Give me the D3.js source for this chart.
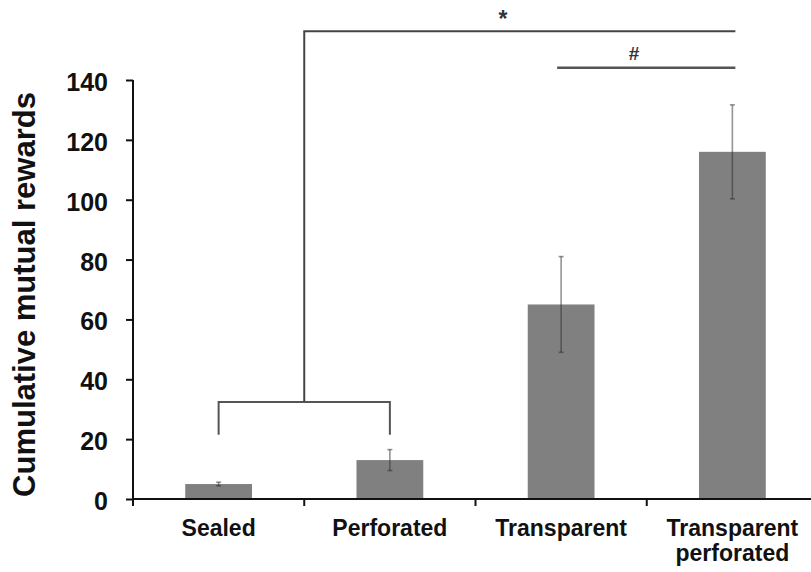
<!DOCTYPE html>
<html>
<head>
<meta charset="utf-8">
<script src="https://cdn.jsdelivr.net/npm/d3@7"></script>
<style>
  body { margin: 0; background: #fff; }
  text { font-family: 'Liberation Sans', Arial, sans-serif; font-weight: bold; fill: #111; }
</style>
</head>
<body>
<div id="chart"></div>
<script>
const categories = ['Sealed', 'Perforated', 'Transparent', 'Transparent perforated'];
const labelLines = [['Sealed'], ['Perforated'], ['Transparent'], ['Transparent', 'perforated']];
const means = [5, 13, 65, 116];
const errors = [0.6, 3.5, 16, 15.7];
const yTicks = [0, 20, 40, 60, 80, 100, 120, 140];

const width = 811;
const height = 572;
const margin = { top: 80, right: -7, bottom: 73, left: 133 };

const svg = d3
  .select('#chart')
  .append('svg')
  .attr('width', width)
  .attr('height', height);

const x = d3
  .scaleBand()
  .domain(categories)
  .range([margin.left, width - margin.right])
  .paddingInner(0.61)
  .paddingOuter(0.305);

const y = d3
  .scaleLinear()
  .domain([0, 140])
  .range([height - margin.bottom, margin.top]);

const step = x.step();
const cx = (c) => x(c) + x.bandwidth() / 2;

// bars
svg
  .append('g')
  .selectAll('rect')
  .data(categories)
  .enter()
  .append('rect')
  .attr('x', (d) => x(d))
  .attr('width', x.bandwidth())
  .attr('y', (d, i) => y(means[i]))
  .attr('height', (d, i) => y(0) - y(means[i]))
  .style('fill', '#808080');

// error bars
const err = svg
  .append('g')
  .style('stroke', '#2a2a2a')
  .style('stroke-opacity', 0.5)
  .style('stroke-width', 1.6);

categories.forEach((c, i) => {
  const hi = y(means[i] + errors[i]);
  const lo = y(means[i] - errors[i]);
  err.append('line').attr('x1', cx(c)).attr('x2', cx(c)).attr('y1', hi).attr('y2', lo);
  err.append('line').attr('x1', cx(c) - 2.5).attr('x2', cx(c) + 2.5).attr('y1', hi).attr('y2', hi);
  err.append('line').attr('x1', cx(c) - 2.5).attr('x2', cx(c) + 2.5).attr('y1', lo).attr('y2', lo);
});

// y axis
const yAxis = svg
  .append('g')
  .attr('transform', `translate(${margin.left},0)`)
  .call(d3.axisLeft(y).tickValues(yTicks).tickSize(7).tickPadding(18));
yAxis.select('.domain').attr('d', `M0,${y(0)}V${y(140)}`).style('stroke', '#111').style('stroke-width', 2);
yAxis.selectAll('.tick line').style('stroke', '#111').style('stroke-width', 2);
yAxis
  .selectAll('.tick text')
  .style('font-size', '25px')
  .style('font-family', "'Liberation Sans', Arial, sans-serif")
  .style('font-weight', 'bold')
  .attr('dy', '0.42em')
  .style('fill', '#111');

// x axis
const xAxis = svg.append('g');
xAxis
  .append('line')
  .attr('x1', margin.left)
  .attr('x2', width)
  .attr('y1', y(0))
  .attr('y2', y(0))
  .style('stroke', '#111')
  .style('stroke-width', 2);

xAxis
  .selectAll('.xtick')
  .data(categories)
  .enter()
  .append('line')
  .attr('x1', (d) => cx(d) - step / 2)
  .attr('x2', (d) => cx(d) - step / 2)
  .attr('y1', y(0))
  .attr('y2', y(0) + 7)
  .style('stroke', '#111')
  .style('stroke-width', 2);

const xl = xAxis
  .selectAll('.xlabel')
  .data(categories)
  .enter()
  .append('text')
  .attr('text-anchor', 'middle')
  .style('font-size', '23px');

xl.selectAll('tspan')
  .data((d, i) => labelLines[i].map((t) => ({ t, c: d })))
  .enter()
  .append('tspan')
  .attr('x', (d) => cx(d.c))
  .attr('y', (d, j) => y(0) + 37 + j * 25)
  .text((d) => d.t);

// y label
svg
  .append('text')
  .attr('transform', `translate(35,${(y(0) + y(140)) / 2 + 5}) rotate(-90)`)
  .attr('text-anchor', 'middle')
  .style('font-size', '31px')
  .text('Cumulative mutual rewards');

// significance brackets
const br = svg
  .append('g')
  .style('fill', 'none')
  .style('stroke', '#555')
  .style('stroke-width', 2);

const bLow = y(21.5);
const bHigh = y(32.4);
const topY = y(156.3);
const hashY = y(144.1);
const mid = cx(categories[1]) - step / 2;
const tpEnd = cx(categories[3]) + 3;

br.append('path').attr(
  'd',
  `M${cx(categories[0])},${bLow}V${bHigh}H${cx(categories[1])}V${bLow}`
);
br.append('path').attr('d', `M${mid},${bHigh}V${topY}H${tpEnd}`).style('stroke', '#444');
br.append('path').attr('d', `M${cx(categories[2]) - 4},${hashY}H${tpEnd}`).style('stroke-width', 2.5);

svg
  .append('text')
  .attr('x', 503)
  .attr('y', 27)
  .attr('text-anchor', 'middle')
  .style('font-size', '23px')
  .style('fill', '#333')
  .text('*');

svg
  .append('text')
  .attr('x', 634)
  .attr('y', 60)
  .attr('text-anchor', 'middle')
  .style('font-size', '19px')
  .style('fill', '#333')
  .text('#');
</script>
</body>
</html>
